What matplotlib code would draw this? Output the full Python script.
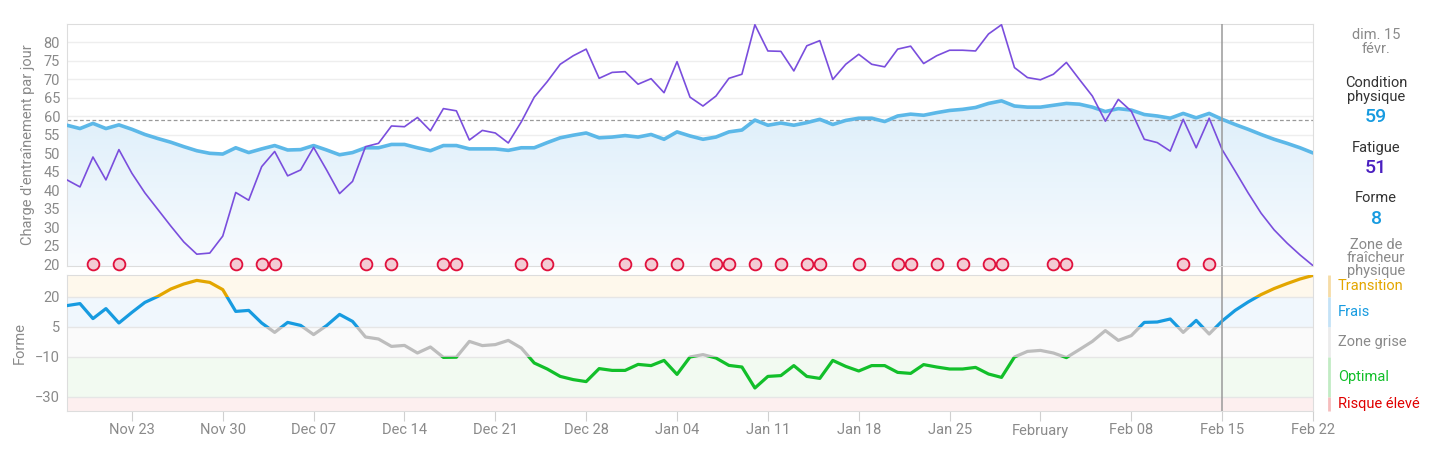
import numpy as np
import pandas as pd
import matplotlib
matplotlib.use('Agg')
import matplotlib.pyplot as plt
import matplotlib.dates as mdates
import matplotlib.transforms as mtransforms
from matplotlib.colors import LinearSegmentedColormap

plt.rcParams['font.family'] = ['Roboto', 'DejaVu Sans']

# daily values, Nov 18 2025 -> Feb 22 2026
start_day = '2025-11-18'
fitness = [57.6, 56.7, 58.1, 56.7, 57.7, 56.5, 55.1, 54.0, 53.0, 51.8,
           50.7, 50.0, 49.8, 51.5, 50.2, 51.2, 52.1, 50.9, 51.0, 52.1,
           50.9, 49.6, 50.2, 51.5, 51.5, 52.4, 52.4, 51.5, 50.7, 52.1,
           52.1, 51.2, 51.2, 51.2, 50.8, 51.5, 51.5, 52.9, 54.2, 54.9,
           55.5, 54.2, 54.4, 54.8, 54.4, 55.1, 53.8, 55.8, 54.7, 53.8,
           54.4, 55.8, 56.3, 59.0, 57.6, 58.2, 57.6, 58.3, 59.2, 57.8,
           58.9, 59.5, 59.5, 58.6, 60.1, 60.6, 60.3, 61.0, 61.6, 61.9,
           62.4, 63.5, 64.2, 62.8, 62.5, 62.5, 63.0, 63.5, 63.3, 62.5,
           61.3, 62.1, 61.7, 60.5, 60.1, 59.5, 60.8, 59.6, 60.8, 59.2,
           57.8, 56.5, 55.1, 53.8, 52.7, 51.5, 50.1]
fatigue = [42.8, 40.9, 49.0, 42.8, 51.0, 44.6, 39.3, 34.8, 30.3, 26.0,
           22.7, 23.0, 27.6, 39.4, 37.3, 46.4, 50.5, 43.9, 45.5, 51.6,
           45.5, 39.1, 42.4, 51.8, 52.7, 57.4, 57.2, 59.7, 56.1, 62.1,
           61.5, 53.6, 56.2, 55.5, 52.8, 58.5, 65.2, 69.4, 74.1, 76.4,
           78.2, 70.3, 71.9, 72.1, 68.7, 70.2, 66.4, 74.8, 65.2, 62.8,
           65.5, 70.3, 71.4, 84.8, 77.7, 77.6, 72.3, 79.1, 80.5, 70.0,
           74.1, 76.8, 74.1, 73.4, 78.2, 79.0, 74.3, 76.4, 77.9, 77.9,
           77.7, 82.3, 84.8, 73.2, 70.5, 69.9, 71.4, 74.6, 70.0, 65.5,
           58.7, 64.6, 61.4, 53.8, 52.9, 50.6, 59.2, 51.5, 59.5, 51.0,
           45.2, 39.3, 33.8, 29.3, 25.7, 22.5, 19.6]
forme = [15.7, 16.7, 9.2, 14.2, 7.0, 12.3, 17.3, 20.3, 24.0, 26.5,
         28.3, 27.3, 23.7, 12.8, 13.3, 7.0, 2.3, 7.3, 5.8, 1.2,
         5.7, 11.3, 7.8, 0.0, -1.0, -4.7, -4.2, -8.0, -5.0, -10.2,
         -10.1, -2.2, -4.3, -3.8, -1.7, -5.5, -13.0, -16.0, -19.7, -21.3,
         -22.3, -15.8, -16.7, -16.7, -13.7, -14.3, -11.7, -18.7, -10.0, -8.8,
         -10.5, -14.2, -15.0, -25.5, -19.7, -19.3, -14.3, -19.7, -20.7, -11.7,
         -14.7, -17.0, -14.3, -14.3, -17.7, -18.2, -13.8, -15.0, -16.0, -16.0,
         -15.2, -18.5, -20.2, -10.0, -7.2, -6.7, -8.0, -10.3, -6.3, -2.2,
         3.2, -1.7, 0.7, 7.3, 7.5, 9.0, 2.3, 8.3, 1.5, 8.0,
         13.3, 17.5, 21.2, 24.2, 26.7, 29.0, 30.8]

training_days = ['2025-11-20', '2025-11-22', '2025-12-01', '2025-12-03', '2025-12-04',
                 '2025-12-11', '2025-12-13', '2025-12-17', '2025-12-18', '2025-12-23',
                 '2025-12-25', '2025-12-31', '2026-01-02', '2026-01-04', '2026-01-07',
                 '2026-01-08', '2026-01-10', '2026-01-12', '2026-01-14', '2026-01-15',
                 '2026-01-18', '2026-01-21', '2026-01-22', '2026-01-24', '2026-01-26',
                 '2026-01-28', '2026-01-29', '2026-02-02', '2026-02-03', '2026-02-12',
                 '2026-02-14']

tick_dates = ['2025-11-23', '2025-11-30', '2025-12-07', '2025-12-14', '2025-12-21',
              '2025-12-28', '2026-01-04', '2026-01-11', '2026-01-18', '2026-01-25',
              '2026-02-01', '2026-02-08', '2026-02-15', '2026-02-22']
tick_labels = ['Nov 23', 'Nov 30', 'Dec 07', 'Dec 14', 'Dec 21', 'Dec 28', 'Jan 04',
               'Jan 11', 'Jan 18', 'Jan 25', 'February', 'Feb 08', 'Feb 15', 'Feb 22']

selected_day = '2026-02-15'
selected_label = 'dim. 15\nfévr.'
selected_fitness = 59
selected_fatigue = 51
selected_forme = 8

zone_names = ['Transition', 'Frais', 'Zone grise', 'Optimal', 'Risque élevé']
zone_edges = [20, 5, -10, -30]
zone_line_colors = ['#E3A600', '#179BE0', '#BDBDBD', '#12BF2A', '#E00000']
zone_bg_colors = ['#FEF8EC', '#F0F7FD', '#FAFAFA', '#F2FAF1', '#FDEFEF']
zone_bar_colors = ['#F6DCA6', '#C4E2F7', '#EBEBEB', '#C2EBC4', '#F6BDBD']
zone_text_colors = ['#E3A600', '#179BE0', '#8A8A8A', '#12BF2A', '#E00000']

dates = pd.date_range(start_day, periods=len(fitness), freq='D')
xnum = mdates.date2num(dates)

fig = plt.figure(figsize=(14.56, 4.54), dpi=100)
ax1 = fig.add_axes([67 / 1456, 1 - 266 / 454, 1246 / 1456, 242 / 454])
ax2 = fig.add_axes([67 / 1456, 1 - 411 / 454, 1246 / 1456, 136 / 454])

grey_txt = '#8A8A8A'
top_lim = (19.5, 85)
bot_lim = (-37, 31)

# ---- top panel
fill = ax1.fill_between(dates, fitness, top_lim[0], facecolor='none', edgecolor='none')
cmap = LinearSegmentedColormap.from_list('fade', ['#F8FBFE', '#DCEEFA'])
grad = np.linspace(0, 1, 256).reshape(-1, 1)
img = ax1.imshow(grad, cmap=cmap, origin='lower', aspect='auto',
                 extent=[xnum[0], xnum[-1], top_lim[0], 65], zorder=1)
img.set_clip_path(fill.get_paths()[0], transform=ax1.transData)

ax1.plot(dates, fitness, color='#5CB8E8', lw=2.6, zorder=3, solid_capstyle='round',
         solid_joinstyle='round')
ax1.plot(dates, fatigue, color='#7A4EDD', lw=1.2, zorder=4, solid_joinstyle='round')
ax1.axhline(selected_fitness, color='#999999', lw=0.9, ls=(0, (3, 2)), zorder=2)

ax1.scatter(pd.to_datetime(training_days), [20] * len(training_days), s=72,
            facecolor='#F3CBD4', edgecolor='#E0103C', linewidth=1.3, zorder=5, clip_on=False)

ax1.set_ylim(*top_lim)
ax1.set_yticks(range(20, 85, 5))
ax1.grid(axis='y', color='#EEEEEE', lw=1)
ax1.set_axisbelow(True)
ax1.set_ylabel("Charge d'entraînement par jour", color=grey_txt, fontsize=10.5, labelpad=6)

# ---- bottom panel
limits = [bot_lim[1]] + zone_edges + [bot_lim[0]]
trans = mtransforms.blended_transform_factory(ax2.transAxes, ax2.transData)
for i in range(len(zone_names)):
    hi, lo = limits[i], limits[i + 1]
    band = ax2.axhspan(lo, hi, color=zone_bg_colors[i], zorder=0, lw=0)
    ln, = ax2.plot(dates, forme, color=zone_line_colors[i], lw=2.3, zorder=3,
                   solid_joinstyle='round')
    ln.set_clip_path(band)
    ax2.plot([1.0125, 1.0125], [lo, hi], color=zone_bar_colors[i], lw=2,
             transform=trans, clip_on=False, solid_capstyle='butt')
    ax2.text(1.02, (lo + hi) / 2, zone_names[i], transform=trans, color=zone_text_colors[i],
             fontsize=10.5, va='center', ha='left')

ax2.set_ylim(*bot_lim)
ax2.set_yticks(zone_edges)
ax2.grid(axis='y', color='#E6E6E6', lw=1)
ax2.set_axisbelow(True)
ax2.set_ylabel('Forme', color=grey_txt, fontsize=10.5, labelpad=6)

for ax in (ax1, ax2):
    ax.set_xlim(dates[0], dates[-1])
    ax.axvline(pd.Timestamp(selected_day), color='#9A9A9A', lw=1.1, zorder=6)
    for s in ax.spines.values():
        s.set_color('#DDDDDD')
    ax.tick_params(axis='y', length=0, labelsize=10.5, labelcolor=grey_txt, pad=5)

ax1.axvline(pd.Timestamp(selected_day), ymin=-0.04, ymax=0, color='#9A9A9A', lw=1.1, clip_on=False)
ax1.set_xticks([])
ax2.set_xticks(pd.to_datetime(tick_dates))
ax2.set_xticklabels(tick_labels)
ax2.tick_params(axis='x', length=7, color='#D0D0D0', labelsize=10.5, labelcolor=grey_txt, pad=2)

# ---- side panel
cx = 1376 / 1456
def fy(py):
    return 1 - py / 454

fig.text(cx, fy(42), selected_label, ha='center', va='center', color=grey_txt,
         fontsize=10.5, linespacing=1.0)
fig.text(cx, fy(90), 'Condition\nphysique', ha='center', va='center', color='#333333',
         fontsize=10.5, linespacing=1.0)
fig.text(cx, fy(117), str(selected_fitness), ha='center', va='center', color='#179BE0',
         fontsize=14, fontweight='medium')
fig.text(cx, fy(148), 'Fatigue', ha='center', va='center', color='#333333', fontsize=10.5)
fig.text(cx, fy(168), str(selected_fatigue), ha='center', va='center', color='#4A1FC0',
         fontsize=14, fontweight='medium')
fig.text(cx, fy(198), 'Forme', ha='center', va='center', color='#333333', fontsize=10.5)
fig.text(cx, fy(219), str(selected_forme), ha='center', va='center', color='#179BE0',
         fontsize=14, fontweight='medium')
fig.text(cx, fy(258), 'Zone de\nfraîcheur\nphysique', ha='center', va='center',
         color=grey_txt, fontsize=10.5, linespacing=0.95)

fig.savefig('out.png', dpi=100)
